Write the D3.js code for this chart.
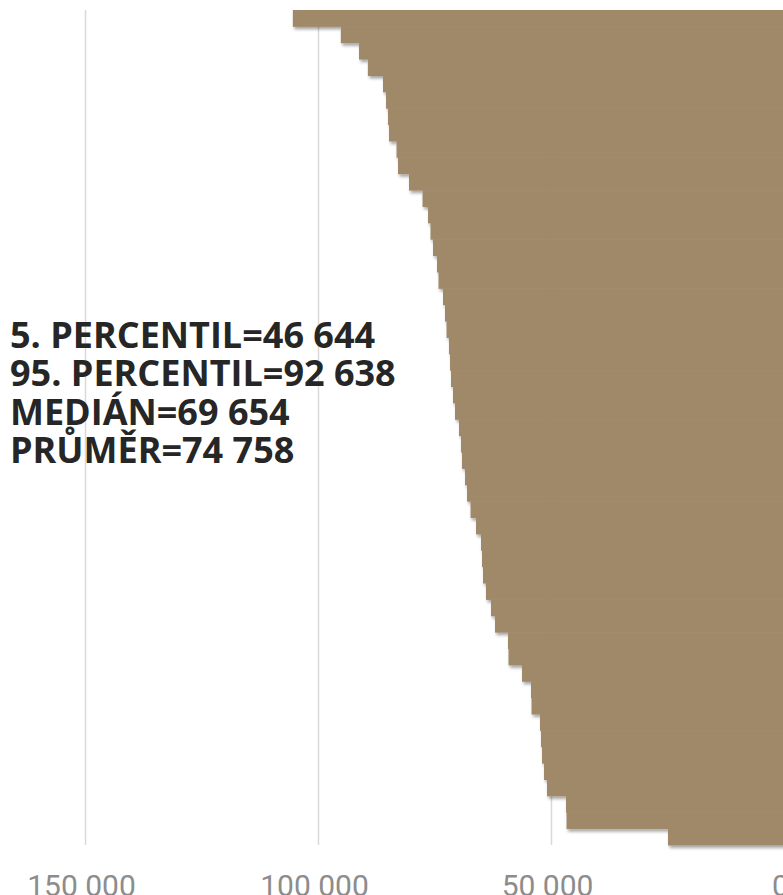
<!DOCTYPE html>
<html>
<head>
<meta charset="utf-8">
<script src="https://cdn.jsdelivr.net/npm/d3@7"></script>
<style>
body { margin: 0; background: #fff; }
.statText { font-family: 'Open Sans', sans-serif; font-weight: 700; font-size: 36px; fill: #262626; }
.tickLabels text { font-family: Roboto, sans-serif; font-weight: 400; font-size: 30px; fill: #8c8c8c; }
</style>
</head>
<body>
<svg class="chart" width="783" height="895"></svg>
<script>
// rows sorted from highest to lowest salary (51 rows)
const rows = [1,2,3,4,5,6,7,8,9,10,11,12,13,14,15,16,17,18,19,20,21,22,23,24,25,26,
	27,28,29,30,31,32,33,34,35,36,37,38,39,40,41,42,43,44,45,46,47,48,49,50,51];
const salaries = [105400, 95100, 91200, 89300, 86050, 85400, 84980, 84760, 83150, 82830,
	80470, 77570, 76390, 75860, 75320, 74460, 74140, 73170, 72750, 72420,
	71890, 71670, 71460, 71030, 70600, 69740, 69310, 69100, 68450, 68020,
	67270, 66090, 65020, 64810, 64590, 63950, 62870, 62020, 59230, 59120,
	56220, 54290, 54180, 52360, 52140, 51930, 51500, 50860, 46780, 46670, 24890];
const tickValues = [0, 50000, 100000, 150000];
const statNames = ['5. PERCENTIL', '95. PERCENTIL', 'MEDIÁN', 'PRŮMĚR'];
const statValues = [46644, 92638, 69654, 74758];

const svgObj = d3.select('.chart');

const czNum = d3.formatLocale({decimal: ',', thousands: ' ', grouping: [3], currency: ['', '']}).format(',d');

//reversed axis, zero on the right edge
const xScale = d3.scaleLinear().domain([0, 150000]).range([784, 85]);
const yScale = d3.scaleBand().domain(rows).range([10, 845]).padding(0);

const defs = svgObj.append('defs');
defs.append('filter')
	.attr('id', 'barShadow')
	.attr('x', '-5%').attr('y', '-5%').attr('width', '115%').attr('height', '115%')
	.append('feDropShadow')
	.attr('dx', 1.5).attr('dy', 2.5)
	.attr('stdDeviation', 1.6)
	.attr('flood-color', '#000')
	.attr('flood-opacity', 0.35);

//gridlines
const grid = svgObj.append('g')
	.attr('transform', 'translate(0,845)')
	.call(d3.axisBottom(xScale).tickValues(tickValues.slice(1)).tickSize(-835).tickFormat(''));
grid.select('.domain').remove();
grid.selectAll('line').attr('stroke', '#d9d9d9').attr('stroke-width', 1.5);

//bars
const bars = svgObj.append('g').attr('filter', 'url(#barShadow)');
bars.selectAll('rect')
	.data(salaries)
	.enter().append('rect')
	.attr('x', d => xScale(d))
	.attr('y', (d, i) => yScale(rows[i]))
	.attr('width', d => xScale(0) - xScale(d))
	.attr('height', yScale.bandwidth() + 0.5)
	.attr('fill', '#a08969');

//tick labels
const axis = svgObj.append('g')
	.attr('class', 'tickLabels')
	.attr('transform', 'translate(0,845)')
	.call(d3.axisBottom(xScale).tickValues(tickValues).tickSize(0).tickPadding(30).tickFormat(czNum));
axis.select('.domain').remove();
axis.selectAll('text').attr('dx', -4);

//summary statistics
svgObj.append('g').selectAll('text')
	.data(statNames)
	.enter().append('text')
	.attr('class', 'statText')
	.attr('x', 10)
	.attr('y', (d, i) => 348 + i * 38.4)
	.text((d, i) => d + '=' + czNum(statValues[i]));
</script>
</body>
</html>
